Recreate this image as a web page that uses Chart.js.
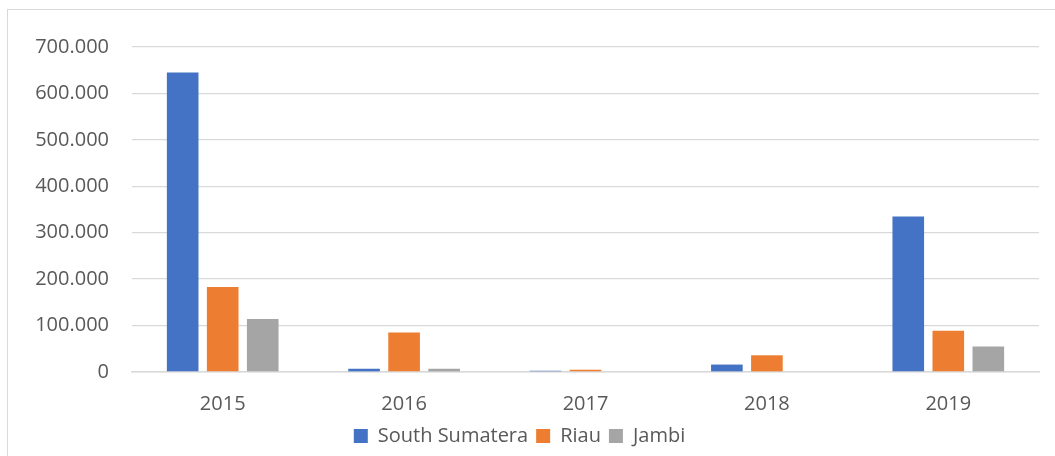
<!DOCTYPE html>
<html>
<head>
<meta charset="utf-8">
<script src="https://cdn.jsdelivr.net/npm/chart.js@4/dist/chart.umd.min.js"></script>
<style>
  html, body { margin: 0; padding: 0; background: #fff; }
  #wrap { position: relative; width: 1055px; height: 456px; overflow: hidden; }
  #frame { position: absolute; left: 7px; top: 9px; width: 1100px; height: 500px;
           border-left: 1px solid #d9d9d9; border-top: 1px solid #d9d9d9; box-sizing: border-box; }
  canvas { position: absolute; left: 0; top: 0; }
</style>
</head>
<body>
<div id="wrap">
  <div id="frame"></div>
  <canvas id="c" width="1055" height="456"></canvas>
</div>
<script>
const categories = ['2015', '2016', '2017', '2018', '2019'];
const southSumatera = [645000, 7000, 2500, 16000, 335000];
const riau = [183000, 85000, 5000, 36000, 89000];
const jambi = [114000, 7000, 0, 0, 55000];
const seriesNames = ['South Sumatera', 'Riau', 'Jambi'];
const seriesColors = ['#4472C4', '#ED7D31', '#A5A5A5'];

const fontFamily = "'Open Sans', 'Noto Sans', sans-serif";
const textColor = '#595959';

function fmt(v) {
  return String(Math.round(v)).replace(/\B(?=(\d{3})+(?!\d))/g, '.');
}

new Chart(document.getElementById('c'), {
  type: 'bar',
  data: {
    labels: categories,
    datasets: [southSumatera, riau, jambi].map((d, i) => ({
      label: seriesNames[i],
      data: d,
      backgroundColor: seriesColors[i],
      borderWidth: 0,
      categoryPercentage: 0.662,
      barPercentage: 0.79
    }))
  },
  options: {
    responsive: false,
    animation: false,
    layout: { padding: { left: 0, right: 16, top: 47, bottom: 0 } },
    plugins: {
      legend: {
        position: 'bottom',
        labels: {
          color: textColor,
          font: { family: fontFamily, size: 20 },
          boxWidth: 14,
          boxHeight: 14,
          padding: 8
        }
      },
      tooltip: { enabled: false }
    },
    scales: {
      x: {
        afterFit: (s) => { s.height = 46; },
        grid: { display: false, drawTicks: false },
        border: { color: '#d9d9d9', width: 1.5 },
        ticks: { color: textColor, font: { family: fontFamily, size: 20 }, padding: 20 }
      },
      y: {
        min: 0,
        max: 700000,
        afterFit: (s) => { s.width = 132; },
        grid: { color: '#d9d9d9', lineWidth: 1.3, drawTicks: false },
        border: { display: false },
        ticks: {
          stepSize: 100000,
          color: textColor,
          font: { family: fontFamily, size: 20 },
          padding: 23,
          callback: (v) => fmt(v)
        }
      }
    }
  }
});
</script>
</body>
</html>
